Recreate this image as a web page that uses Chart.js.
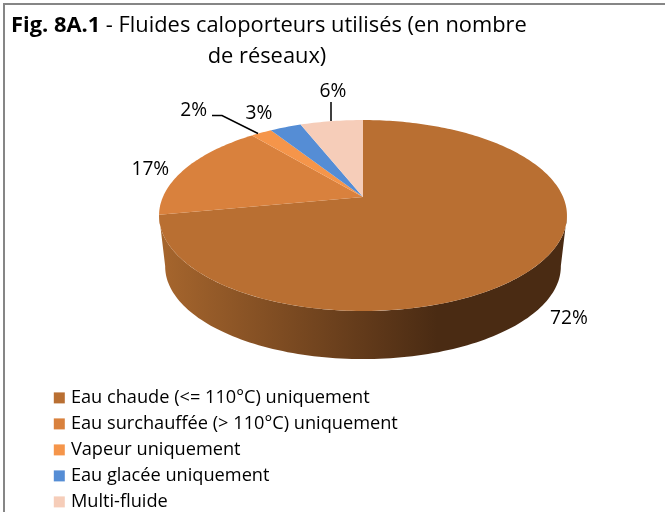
<!DOCTYPE html>
<html>
<head>
<meta charset="utf-8">
<style>
  html, body { margin: 0; padding: 0; background: #fff; }
  #wrap { width: 665px; height: 513px; position: relative; }
</style>
<script src="https://cdn.jsdelivr.net/npm/chart.js@4/dist/chart.umd.min.js"></script>
</head>
<body>
<div id="wrap"><canvas id="fluides"></canvas></div>
<script>
var categories = ['Eau chaude (<= 110°C) uniquement', 'Eau surchauffée (> 110°C) uniquement', 'Vapeur uniquement', 'Eau glacée uniquement', 'Multi-fluide'];
var shares = [72, 17, 2, 3, 6];
var sliceColors = ['#B96F32', '#D9813D', '#F5954A', '#558DD5', '#F6CDB9'];
var titleBold = 'Fig. 8A.1';
var titleRest = ' - Fluides caloporteurs utilisés (en nombre';
var titleLine2 = 'de réseaux)';

var fontName = '"Open Sans", sans-serif';
var fontSize = 18.2;
var titleSize = 21.85;
var labelSize = 19.2;

// the pie is seen in perspective, so the centre sits above the middle of the ellipse
var pie = { x: 363, y: 197, a: 200.1, b: 91.9, k: -0.1937, depth: 51, shrink: 0.97 };
// label offsets from the rim point in the middle of each slice
var labelShift = [[30, 54.5], [-36, 1.5], [-67.6, -22], [-26.5, -14], [1.5, -29.5]];

function rim(angle) {
  // chart.js angle, 0 = right, clockwise; circle to ellipse through a projection
  var u = Math.cos(angle), v = Math.sin(angle), w = 1 + pie.k * v;
  return { x: pie.x + pie.a * u / w, y: pie.y + pie.b * v / w };
}

function slicePath(ctx, start, end) {
  ctx.beginPath();
  ctx.moveTo(pie.x, pie.y);
  var steps = Math.max(4, Math.ceil((end - start) / 0.02));
  for (var i = 0; i <= steps; i++) {
    var p = rim(start + (end - start) * i / steps);
    ctx.lineTo(p.x, p.y);
  }
  ctx.closePath();
}

var sidePlugin = {
  id: 'pie3d',
  afterLayout: function(chart) {
    // legend sits under the pie, wider than the half width the layout allows
    var l = chart.legend;
    l.left = 49;
    l.right = 660;
    l.top = 381;
    l.bottom = 600;
  },
  beforeDatasetDraw: function(chart) {
    var ctx = chart.ctx;
    var arcs = chart.getDatasetMeta(0).data;

    // outer side, only the big slice shows it
    var grad = ctx.createLinearGradient(165, 0, 437, 0);
    grad.addColorStop(0, '#A5652D');
    grad.addColorStop(0.7, '#653C1B');
    grad.addColorStop(1, '#4A2B13');
    var left = rim(Math.PI * 1.0 - 0.19);
    var right = rim(0.19);
    var midY = (left.y + right.y) / 2;
    ctx.save();
    ctx.beginPath();
    ctx.moveTo(right.x, right.y);
    var steps = 120, i, p;
    for (i = 1; i <= steps; i++) {
      p = rim(0.19 + (Math.PI - 0.38) * i / steps);
      ctx.lineTo(p.x, p.y);
    }
    for (i = steps; i >= 0; i--) {
      p = rim(0.19 + (Math.PI - 0.38) * i / steps);
      ctx.lineTo(pie.x + (p.x - pie.x) * pie.shrink, midY + (p.y - midY) * pie.shrink + pie.depth);
    }
    ctx.closePath();
    ctx.fillStyle = grad;
    ctx.fill();
    ctx.restore();

    // top face, from the angles chart.js worked out
    arcs.forEach(function(arc, idx) {
      slicePath(ctx, arc.startAngle, arc.endAngle);
      ctx.fillStyle = sliceColors[idx];
      ctx.fill();
    });
    return false;
  },
  afterDatasetsDraw: function(chart) {
    var ctx = chart.ctx;
    var arcs = chart.getDatasetMeta(0).data;

    // leader lines
    ctx.save();
    ctx.strokeStyle = '#000';
    ctx.lineWidth = 1.5;
    ctx.beginPath();
    ctx.moveTo(212, 115.5);
    ctx.lineTo(222, 115.5);
    ctx.lineTo(258, 133.5);
    ctx.moveTo(331, 102);
    ctx.lineTo(331, 121);
    ctx.stroke();

    ctx.fillStyle = '#000';
    ctx.font = labelSize + 'px ' + fontName;
    ctx.textAlign = 'center';
    ctx.textBaseline = 'middle';
    arcs.forEach(function(arc, idx) {
      var p = rim((arc.startAngle + arc.endAngle) / 2);
      ctx.fillText(shares[idx] + '%', p.x + labelShift[idx][0], p.y + labelShift[idx][1]);
    });
    ctx.restore();
  },
  afterDraw: function(chart) {
    var ctx = chart.ctx;
    ctx.save();
    // title, mixed bold and plain
    ctx.fillStyle = '#000';
    ctx.textBaseline = 'alphabetic';
    ctx.textAlign = 'left';
    ctx.font = 'bold ' + titleSize + 'px ' + fontName;
    ctx.fillText(titleBold, 11, 32);
    var w = ctx.measureText(titleBold).width;
    ctx.font = titleSize + 'px ' + fontName;
    ctx.fillText(titleRest, 11 + w, 32);
    ctx.textAlign = 'center';
    ctx.fillText(titleLine2, 267, 63);
    // frame, only top and left are in the picture
    ctx.strokeStyle = '#868686';
    ctx.lineWidth = 2;
    ctx.beginPath();
    ctx.moveTo(4, 512);
    ctx.lineTo(4, 4);
    ctx.lineTo(665, 4);
    ctx.stroke();
    ctx.restore();
  }
};

new Chart('fluides', {
  type: 'pie',
  data: {
    labels: categories,
    datasets: [{
      data: shares,
      backgroundColor: sliceColors,
      // the wide border fills out the legend swatch, text stays close to it
      borderColor: sliceColors,
      borderWidth: 6
    }]
  },
  options: {
    responsive: true,
    maintainAspectRatio: false,
    animation: false,
    events: [],
    rotation: 0,
    plugins: {
      title: { display: false },
      tooltip: { enabled: false },
      legend: {
        position: 'left',
        align: 'start',
        labels: {
          boxWidth: 5,
          boxHeight: 5,
          padding: 26 - fontSize,
          color: '#000',
          font: { family: fontName, size: fontSize }
        }
      }
    }
  },
  plugins: [sidePlugin]
});
</script>
</body>
</html>
